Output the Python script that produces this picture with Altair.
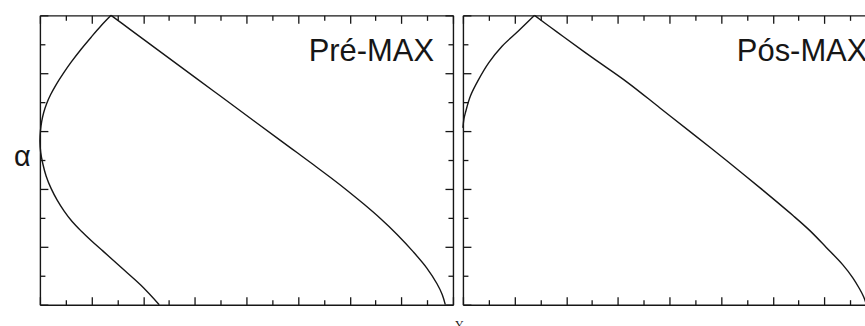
import altair as alt
import pandas as pd

# Pré-MAX curve: from the lower foot, round the left edge, up to the cusp, then down the right flank
pre_x = [4.622, 3.915, 3.142, 2.435, 1.983, 1.596, 1.248, 0.939, 0.669, 0.437, 0.243, 0.108, 0.031,
         0.000, 0.023, 0.070, 0.147, 0.263, 0.417, 0.630, 0.900, 1.210, 1.596, 1.983, 2.369, 2.756,
         3.529, 4.186, 4.959, 6.737, 8.283, 9.327, 9.971, 10.613, 11.258, 11.903, 12.545,
         13.190, 13.836, 14.466, 14.995, 15.382, 15.587, 15.703]
pre_y = [0.000, 0.671, 1.291, 1.859, 2.220, 2.547, 2.874, 3.236, 3.614, 4.010, 4.441, 4.888, 5.267,
         5.645, 6.024, 6.334, 6.644, 6.954, 7.263, 7.608, 7.986, 8.382, 8.830, 9.243, 9.639, 10.000,
         9.491, 9.057, 8.547, 7.377, 6.358, 5.670, 5.250, 4.826, 4.396, 3.948, 3.477,
         2.978, 2.427, 1.824, 1.257, 0.723, 0.344, 0.000]

# Pós-MAX curve: starts on the left edge, rises to the cusp, then falls to the bottom right
post_x = [0.000, 0.039, 0.097, 0.290, 0.611, 0.997, 1.515, 2.157, 2.775,
          3.447, 3.896, 5.043, 6.357, 7.633, 8.908, 10.222, 11.498, 12.785, 13.430, 14.075,
          14.717, 15.103, 15.362, 15.517, 15.633]
post_y = [6.110, 6.420, 6.637, 7.212, 7.787, 8.358, 8.933, 9.466, 10.000,
          9.552, 9.260, 8.520, 7.694, 6.799, 5.904, 4.974, 4.045, 3.081, 2.568, 1.979,
          1.377, 0.929, 0.551, 0.285, 0.000]

panel_labels = ["Pré-MAX", "Pós-MAX"]
label_x = [10.41, 10.61]
label_y = [8.43, 8.43]

x_ticks = list(range(0, 17))
y_ticks = list(range(0, 11))

INK = "#161616"
# inward ticks, longer on even values
TICK = alt.ExprRef(expr="datum.value % 2 == 0 ? -8 : -5")

xs = alt.Scale(domain=[0, 16], nice=False, zero=False)
ys = alt.Scale(domain=[0, 10], nice=False, zero=False)


def axis(orient, values, **extra):
    return alt.Axis(orient=orient, values=values, labels=False, grid=False,
                    tickSize=TICK, tickColor=INK, tickWidth=1.3,
                    domainColor=INK, domainWidth=1.4, **extra)


def curve_frame(xv, yv):
    # split at the cusp so each flank is a smooth branch of its own
    cusp = yv.index(max(yv))
    rows = []
    for i, (a, b) in enumerate(zip(xv, yv)):
        if i <= cusp:
            rows.append({"x": a, "y": b, "order": i, "branch": "rise"})
        if i >= cusp:
            rows.append({"x": a, "y": b, "order": i, "branch": "fall"})
    return pd.DataFrame(rows)


def panel(xv, yv, label, lx, ly, left_title=False, bottom_title=False):
    df = curve_frame(xv, yv)

    if bottom_title:
        bottom = axis("bottom", x_ticks, title="Y", titleFont="Liberation Serif",
                      titleFontSize=12, titleFontWeight="normal", titleColor=INK,
                      titleX=420, titleY=15, titleBaseline="top", titleAlign="center")
    else:
        bottom = axis("bottom", x_ticks, title=None)
    if left_title:
        left = axis("left", y_ticks, title="α", titleAngle=0, titleFont="Liberation Sans",
                    titleFontSize=29, titleFontWeight="normal", titleColor=INK,
                    titleX=-18, titleY=141, titleAlign="center", titleBaseline="middle")
    else:
        left = axis("left", y_ticks, title=None)

    curve = alt.Chart(df).mark_line(
        color=INK, strokeWidth=1.4, interpolate="catmull-rom"
    ).encode(
        x=alt.X("x:Q", scale=xs, axis=bottom),
        y=alt.Y("y:Q", scale=ys, axis=left),
        detail="branch:N",
        order="order:Q",
    )
    box = alt.Chart(df).mark_line(strokeWidth=0, strokeOpacity=0).encode(
        x=alt.X("x:Q", scale=xs, axis=axis("top", x_ticks, title=None)),
        y=alt.Y("y:Q", scale=ys, axis=axis("right", y_ticks, title=None)),
        detail="branch:N",
        order="order:Q",
    )
    tag = alt.Chart(pd.DataFrame({"label": [label]})).mark_text(
        align="left", baseline="alphabetic", font="Liberation Sans", fontSize=31, color=INK
    ).encode(
        x=alt.X(datum=lx, scale=xs, axis=None),
        y=alt.Y(datum=ly, scale=ys, axis=None),
        text="label:N",
    )
    return alt.layer(curve, box, tag).resolve_axis(x="independent", y="independent").properties(
        width=414, height=290
    )


left_panel = panel(pre_x, pre_y, panel_labels[0], label_x[0], label_y[0],
                   left_title=True, bottom_title=True)
right_panel = panel(post_x, post_y, panel_labels[1], label_x[1], label_y[1])

chart = alt.hconcat(left_panel, right_panel, spacing=10, bounds="flush").properties(
    padding={"left": 13, "top": 11, "right": -13, "bottom": 0},
    background="white",
).configure_view(stroke="transparent")

chart.save("out.html", embed_options={"renderer": "svg", "actions": False})
